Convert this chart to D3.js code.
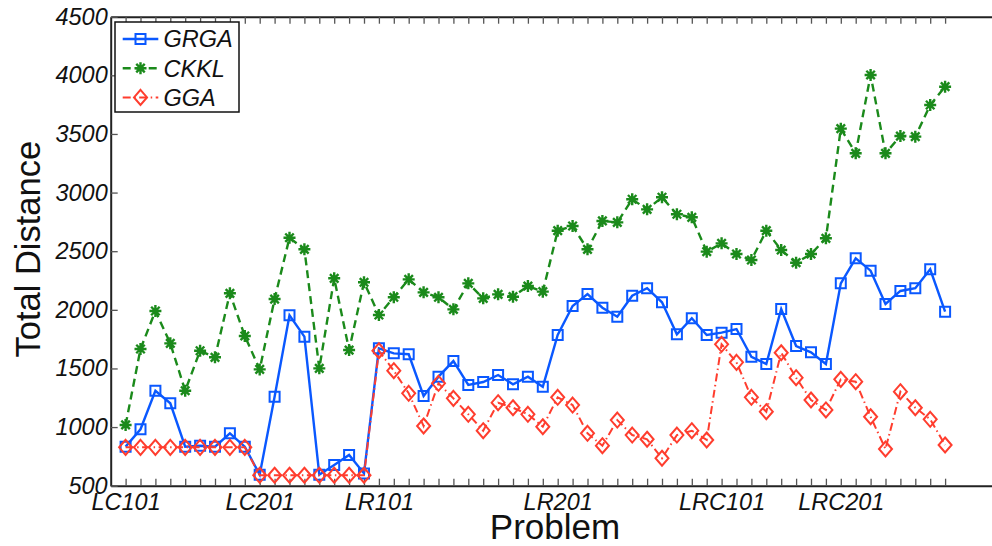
<!DOCTYPE html>
<html>
<head>
<meta charset="utf-8">
<script src="https://cdn.jsdelivr.net/npm/d3@7"></script>
<style>
  body { margin: 0; background: #fff; }
  svg { display: block; }
  text { font-family: "Liberation Sans", Arial, Helvetica, sans-serif; }
</style>
</head>
<body>
<svg id="chart" width="992" height="546"></svg>
<script>
// Benchmark problems (x positions 1..56)
const problems = [
  "LC101","LC102","LC103","LC104","LC105","LC106","LC107","LC108","LC109",
  "LC201","LC202","LC203","LC204","LC205","LC206","LC207","LC208",
  "LR101","LR102","LR103","LR104","LR105","LR106","LR107","LR108","LR109","LR110","LR111","LR112",
  "LR201","LR202","LR203","LR204","LR205","LR206","LR207","LR208","LR209","LR210","LR211",
  "LRC101","LRC102","LRC103","LRC104","LRC105","LRC106","LRC107","LRC108",
  "LRC201","LRC202","LRC203","LRC204","LRC205","LRC206","LRC207","LRC208"
];

// Total distance per problem for each algorithm
const grga = [
  833, 981, 1310, 1203, 833, 841, 833, 947, 833,
  594, 1259, 1953, 1771, 594, 676, 762, 605,
  1672, 1629, 1621, 1265, 1430, 1563, 1359, 1384, 1444, 1365, 1430, 1344,
  1785, 2033, 2135, 2018, 1941, 2120, 2184, 2064, 1791, 1928, 1785,
  1805, 1836, 1600, 1538, 2007, 1691, 1638, 1538,
  2226, 2439, 2334, 2050, 2161, 2184, 2346, 1984
];
const ckkl = [
  1018, 1666, 1990, 1714, 1310, 1651, 1595, 2141, 1777,
  1492, 2092, 2615, 2516, 1501, 2269, 1657, 2235,
  1956, 2107, 2260, 2149, 2107, 2004, 2226, 2098, 2132, 2112, 2203, 2155,
  2675, 2715, 2516, 2758, 2746, 2943, 2857, 2960, 2815, 2789, 2496,
  2567, 2476, 2425, 2675, 2510, 2402, 2476, 2610,
  3545, 3335, 4003, 3335, 3482, 3477, 3747, 3903
];
const gga = [
  827, 827, 827, 827, 827, 827, 827, 827, 827,
  589, 589, 589, 589, 589, 589, 589, 589,
  1651, 1481, 1288, 1009, 1373, 1245, 1109, 969, 1208, 1165, 1109, 1003,
  1254, 1188, 947, 841, 1060, 932, 896, 734, 932, 969, 890,
  1706, 1552, 1254, 1131, 1634, 1421, 1231, 1146,
  1407, 1387, 1088, 813, 1302, 1165, 1066, 847
];

const labeledProblems = ["LC101", "LC201", "LR101", "LR201", "LRC101", "LRC201"];
const yTicks = [500, 1000, 1500, 2000, 2500, 3000, 3500, 4000, 4500];
const seriesNames = ["GRGA", "CKKL", "GGA"];

const svg = d3.select("#chart");

const left = 110.7, step = 14.9, xMax = 60;
const x = d3.scaleLinear().domain([0, xMax]).range([left, left + xMax * step]);
const y = d3.scaleLinear().domain([500, 4500]).range([485.7, 16.7]);

const idx = d3.range(1, problems.length + 1);
const tickFont = "23.5px";

// Axes: bottom (labelled), top (ticks only), left (values)
const gx = svg.append("g").attr("transform", `translate(0,${y(500)})`)
  .call(d3.axisBottom(x).tickValues(idx)
    .tickFormat(i => labeledProblems.includes(problems[i - 1]) ? problems[i - 1] : "")
    .tickSizeInner(-7).tickSizeOuter(0).tickPadding(8));
const gt = svg.append("g").attr("transform", `translate(0,${y(4500)})`)
  .call(d3.axisTop(x).tickValues(idx).tickFormat("").tickSizeInner(-7).tickSizeOuter(0));
const gy = svg.append("g").attr("transform", `translate(${x(0)},0)`)
  .call(d3.axisLeft(y).tickValues(yTicks).tickFormat(d3.format("d"))
    .tickSizeInner(-7).tickSizeOuter(0).tickPadding(3));

[gx, gt, gy].forEach(g => {
  g.select(".domain").attr("stroke", "#222").attr("stroke-width", 2);
  g.selectAll(".tick line").attr("stroke", "#555").attr("stroke-width", 1.3);
  g.selectAll(".tick text")
    .attr("fill", "#111")
    .style("font-family", "'Liberation Sans', Arial, sans-serif")
    .style("font-size", tickFont)
    .style("font-style", "italic");
});

// Axis titles
svg.append("text")
  .attr("x", 555).attr("y", 539)
  .attr("text-anchor", "middle")
  .style("font-size", "35px")
  .attr("fill", "#111")
  .text("Problem");
svg.append("text")
  .attr("transform", `translate(40,${y(2500) - 2}) rotate(-90)`)
  .attr("text-anchor", "middle")
  .style("font-size", "34.5px")
  .attr("fill", "#111")
  .text("Total Distance");

// Marker shapes
const squarePath = d3.symbol().type(d3.symbolSquare).size(100)();
const diamondPath = "M0,-7.5L6.5,0L0,7.5L-6.5,0Z";
const r = 6;
const asteriskPath = d3.range(4).map(k => {
  const a = k * Math.PI / 4;
  const dx = r * Math.cos(a), dy = r * Math.sin(a);
  return `M${-dx},${-dy}L${dx},${dy}`;
}).join("");

const styles = {
  GRGA: { values: grga, color: "#0a58ff", dash: null, width: 2.4, marker: squarePath, mw: 2 },
  CKKL: { values: ckkl, color: "#1b8a1b", dash: "8,5", width: 2.4, marker: asteriskPath, mw: 2.4 },
  GGA:  { values: gga,  color: "#ff3d2e", dash: "8,3.5,1.5,3.5", width: 2, marker: diamondPath, mw: 2 }
};

const line = d3.line().x((d, i) => x(i + 1)).y(d => y(d));

seriesNames.forEach(name => {
  const s = styles[name];
  const g = svg.append("g");
  g.append("path")
    .datum(s.values)
    .attr("d", line)
    .attr("fill", "none")
    .attr("stroke", s.color)
    .attr("stroke-width", s.width)
    .attr("stroke-dasharray", s.dash);
  g.selectAll("path.mark")
    .data(s.values)
    .join("path")
    .attr("class", "mark")
    .attr("transform", (d, i) => `translate(${x(i + 1)},${y(d)})`)
    .attr("d", s.marker)
    .attr("fill", "none")
    .attr("stroke", s.color)
    .attr("stroke-width", s.mw);
});

// Legend
const legend = svg.append("g");
legend.append("rect")
  .attr("x", 115).attr("y", 22).attr("width", 124).attr("height", 90)
  .attr("fill", "#fff").attr("stroke", "#111").attr("stroke-width", 1.5);
seriesNames.forEach((name, k) => {
  const s = styles[name];
  const ly = 39 + k * 29.2;
  legend.append("line")
    .attr("x1", 122.7).attr("x2", 158.3).attr("y1", ly).attr("y2", ly)
    .attr("stroke", s.color).attr("stroke-width", s.width)
    .attr("stroke-dasharray", s.dash);
  legend.append("path")
    .attr("transform", `translate(140.5,${ly})`)
    .attr("d", s.marker)
    .attr("fill", "none").attr("stroke", s.color).attr("stroke-width", s.mw);
  legend.append("text")
    .attr("x", 163.5).attr("y", ly).attr("dy", "0.36em")
    .style("font-size", "23.5px").style("font-style", "italic")
    .attr("fill", "#111")
    .text(name);
});
</script>
</body>
</html>
